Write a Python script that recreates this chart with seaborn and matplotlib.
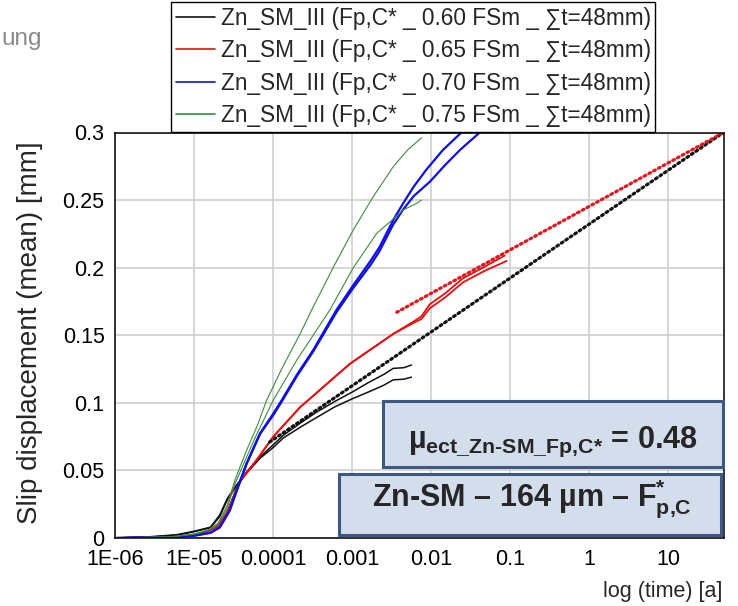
import numpy as np
import matplotlib
matplotlib.use("Agg")
import matplotlib.pyplot as plt
import seaborn as sns
from matplotlib.lines import Line2D
from matplotlib.patches import Rectangle
from matplotlib.ticker import LogLocator, MultipleLocator, NullFormatter

# Zeit [a] und Schlupf [mm], je zwei Proben pro Laststufe
t_black_1 = [1e-6, 3e-6, 6e-6, 1e-5, 1.6e-5, 2.1e-5, 2.6e-5, 3.3e-5, 4.6e-5, 6.8e-5, 1e-4, 1.34e-4,
             2.2e-4, 3.5e-4, 6e-4, 1e-3, 1.6e-3, 2.5e-3, 3.3e-3, 4.5e-3, 5.6e-3]
d_black_1 = [0.0, 0.001, 0.002, 0.0047, 0.0076, 0.0158, 0.028, 0.037, 0.048, 0.059, 0.067, 0.074,
             0.082, 0.089, 0.097, 0.103, 0.108, 0.113, 0.117, 0.1175, 0.119]
t_black_2 = t_black_1
d_black_2 = [0.0, 0.001, 0.0025, 0.005, 0.008, 0.017, 0.029, 0.038, 0.049, 0.060, 0.069, 0.076,
             0.085, 0.093, 0.101, 0.108, 0.115, 0.121, 0.1255, 0.126, 0.128]

t_red_1 = [1e-6, 5e-6, 1e-5, 1.3e-5, 2e-5, 2.6e-5, 3.3e-5, 3.8e-5, 6.2e-5, 1e-4, 2.2e-4, 2.9e-4,
           5.2e-4, 9.4e-4, 1.4e-3, 3.3e-3, 5.9e-3, 7.5e-3, 9.6e-3, 1.5e-2, 2.5e-2, 4.5e-2, 8.5e-2]
d_red_1 = [0.0, 0.0008, 0.002, 0.003, 0.009, 0.019, 0.034, 0.042, 0.058, 0.075, 0.097, 0.103,
           0.116, 0.129, 0.136, 0.151, 0.160, 0.164, 0.173, 0.181, 0.192, 0.200, 0.209]
t_red_2 = [1e-6, 5e-6, 1e-5, 1.3e-5, 2e-5, 2.6e-5, 3.3e-5, 3.8e-5, 6.2e-5, 1e-4, 2.2e-4, 2.9e-4,
           5.2e-4, 9.4e-4, 1.4e-3, 3.3e-3, 5.9e-3, 7.5e-3, 9.6e-3, 1.5e-2, 2.5e-2, 4.5e-2, 9e-2]
d_red_2 = [0.0, 0.0008, 0.002, 0.004, 0.009, 0.019, 0.034, 0.042, 0.058, 0.075, 0.097, 0.103,
           0.116, 0.129, 0.136, 0.151, 0.159, 0.162, 0.170, 0.178, 0.189, 0.197, 0.205]

t_blue_1 = [1e-6, 5e-6, 1e-5, 1.6e-5, 2.1e-5, 2.8e-5, 3.45e-5, 4.6e-5, 6.8e-5, 1e-4, 1.28e-4, 2e-4,
            3.2e-4, 6.3e-4, 1e-3, 1.7e-3, 2.2e-3, 3.3e-3, 4.4e-3, 6e-3, 8.6e-3, 1.4e-2, 2.4e-2]
d_blue_1 = [0.0, 0.0006, 0.0018, 0.004, 0.008, 0.0207, 0.0355, 0.0553, 0.0775, 0.092, 0.102, 0.121,
            0.139, 0.1687, 0.186, 0.205, 0.215, 0.2353, 0.2476, 0.260, 0.2723, 0.287, 0.300]
t_blue_2 = [1e-6, 5e-6, 1e-5, 1.6e-5, 2.1e-5, 2.8e-5, 3.45e-5, 4.6e-5, 6.8e-5, 1e-4, 1.28e-4, 2e-4,
            3.2e-4, 6.3e-4, 1e-3, 1.7e-3, 2.2e-3, 3.3e-3, 4.4e-3, 6e-3, 9.6e-3, 1.5e-2, 2.3e-2, 4.1e-2]
d_blue_2 = [0.0, 0.0006, 0.0017, 0.0038, 0.0078, 0.020, 0.035, 0.055, 0.077, 0.091, 0.101, 0.120,
            0.138, 0.167, 0.184, 0.202, 0.212, 0.232, 0.243, 0.253, 0.2636, 0.276, 0.287, 0.300]

t_green_1 = [1e-6, 5e-6, 1e-5, 1.5e-5, 2e-5, 2.6e-5, 3.27e-5, 4.6e-5, 6.2e-5, 8.25e-5, 1.3e-4, 2.2e-4,
             3.06e-4, 5.8e-4, 1.03e-3, 1.84e-3, 3.3e-3, 5e-3, 7.5e-3]
d_green_1 = [0.0, 0.0008, 0.003, 0.006, 0.011, 0.024, 0.043, 0.065, 0.0824, 0.102, 0.126, 0.1514,
             0.1687, 0.2007, 0.2279, 0.2525, 0.2747, 0.287, 0.296]
t_green_2 = [1e-6, 5e-6, 1e-5, 1.5e-5, 2e-5, 2.6e-5, 3.27e-5, 4.6e-5, 6.2e-5, 1e-4, 2e-4, 3.2e-4,
             5.2e-4, 1.03e-3, 2.04e-3, 3.3e-3, 4.4e-3, 6.5e-3, 7.5e-3]
d_green_2 = [0.0, 0.0008, 0.0028, 0.0055, 0.010, 0.022, 0.040, 0.060, 0.077, 0.102, 0.132, 0.150,
             0.1687, 0.200, 0.2254, 0.236, 0.2427, 0.2475, 0.250]

# Extrapolationsgeraden (gepunktet)
t_fit_black = [9e-5, 50]
d_fit_black = [0.071, 0.300]
t_fit_red = [3.65e-3, 50]
d_fit_red = [0.167, 0.300]

labels = ["Zn_SM_III (Fp,C* _ 0.60 FSm _ \u2211t=48mm)",
          "Zn_SM_III (Fp,C* _ 0.65 FSm _ \u2211t=48mm)",
          "Zn_SM_III (Fp,C* _ 0.70 FSm _ \u2211t=48mm)",
          "Zn_SM_III (Fp,C* _ 0.75 FSm _ \u2211t=48mm)"]
colors = ["#111111", "#e31010", "#1010e0", "#3f8a3f"]
widths = [1.1, 1.3, 1.6, 0.8]

xticks = [1e-6, 1e-5, 1e-4, 1e-3, 1e-2, 1e-1, 1, 10]
xticklabels = ["1E-06", "1E-05", "0.0001", "0.001", "0.01", "0.1", "1", "10"]
yticks = [0, 0.05, 0.1, 0.15, 0.2, 0.25, 0.3]
yticklabels = ["0", "0.05", "0.1", "0.15", "0.2", "0.25", "0.3"]

sns.set_style("white")
plt.rcParams["font.family"] = ["Liberation Sans", "DejaVu Sans"]
plt.rcParams["mathtext.fontset"] = "custom"
plt.rcParams["mathtext.rm"] = "Liberation Sans:bold"
plt.rcParams["mathtext.bf"] = "Liberation Sans:bold"
plt.rcParams["mathtext.it"] = "Liberation Sans:bold"
plt.rcParams["mathtext.sf"] = "Liberation Sans:bold"

W, H = 738, 606
fig = plt.figure(figsize=(W / 100, H / 100), dpi=100)
ax = fig.add_axes([115.3 / W, 1 - 538 / H, (723.5 - 115.3) / W, (538 - 132.5) / H])

curves = [(t_black_1, d_black_1, 0), (t_black_2, d_black_2, 0),
          (t_red_1, d_red_1, 1), (t_red_2, d_red_2, 1),
          (t_blue_1, d_blue_1, 2), (t_blue_2, d_blue_2, 2),
          (t_green_1, d_green_1, 3), (t_green_2, d_green_2, 3)]
for t, d, k in curves:
    sns.lineplot(x=t, y=d, ax=ax, color=colors[k], lw=widths[k], estimator=None, sort=False)

sns.lineplot(x=t_fit_black, y=d_fit_black, ax=ax, color="#111111", lw=2.3,
             linestyle=(0, (0.6, 1.1)), dash_capstyle="round", estimator=None)
sns.lineplot(x=t_fit_red, y=d_fit_red, ax=ax, color="#e3161e", lw=2.3,
             linestyle=(0, (0.6, 1.1)), dash_capstyle="round", estimator=None)

ax.set_xscale("log")
ax.set_xlim(1e-6, 50)
ax.set_ylim(0, 0.3)
ax.set_xticks(xticks, xticklabels)
ax.set_yticks(yticks, yticklabels)
ax.xaxis.set_minor_locator(LogLocator(base=10, subs=(2, 4, 6, 8), numticks=20))
ax.xaxis.set_minor_formatter(NullFormatter())
ax.yaxis.set_minor_locator(MultipleLocator(0.025))
ax.grid(True, which="major", color="#cfcfcf", lw=1.2)
ax.set_axisbelow(True)
ax.tick_params(axis="both", which="major", direction="inout", labelsize=15.5, colors="black")
ax.tick_params(axis="y", which="major", length=8.5, width=1.0)
ax.tick_params(axis="x", which="major", length=7.5, width=1.0, pad=4.5)
ax.tick_params(axis="both", which="minor", direction="inout", length=4.5, width=1.0)
for sp in ax.spines.values():
    sp.set_color("black")
    sp.set_linewidth(1.1)
ax.set_xlabel("")
ax.set_ylabel("")

fig.text(30 / W, 1 - 333 / H, "Slip displacement (mean) [mm]", rotation=90,
         ha="center", va="center", fontsize=20)
fig.text(722 / W, 1 - 597 / H, "log (time) [a]", ha="right", va="baseline", fontsize=15.5)
fig.text(1 / W, 1 - 45 / H, "ung", ha="left", va="baseline", fontsize=17.5, color="#8a8a8a")

handles = [Line2D([], [], color=c, lw=1.2) for c in colors]
leg = fig.legend(handles, labels, loc="upper left", bbox_to_anchor=(171 / W, 1 - 2 / H),
                 frameon=True, fancybox=False, edgecolor="black", framealpha=1,
                 fontsize=16.3, handlelength=1.75, handletextpad=0.25, labelspacing=0.42,
                 borderpad=0.2, borderaxespad=0)
leg.get_frame().set_linewidth(1.0)

box_face = "#d3ddec"
box_edge = "#3e5883"
fig.add_artist(Rectangle((383 / W, 1 - 467 / H), 340 / W, 66 / H, transform=fig.transFigure,
                         facecolor=box_face, edgecolor=box_edge, lw=2.2, zorder=5))
fig.add_artist(Rectangle((339 / W, 1 - 535 / H), 382 / W, 61 / H, transform=fig.transFigure,
                         facecolor=box_face, edgecolor=box_edge, lw=2.2, zorder=5))
fig.text(553 / W, 1 - 448 / H, "\u00b5$_{\\text{ect_Zn-SM_Fp,C*}}$ = 0.48", ha="center",
         va="baseline", fontsize=22, fontweight="bold", zorder=6)
fig.text(532 / W, 1 - 505 / H, "Zn-SM \u2013 164 \u00b5m \u2013 F$_{\\text{p,C}}^{\\text{*}}$",
         ha="center", va="baseline", fontsize=22, fontweight="bold", zorder=6)

fig.savefig("out.png", dpi=100)
